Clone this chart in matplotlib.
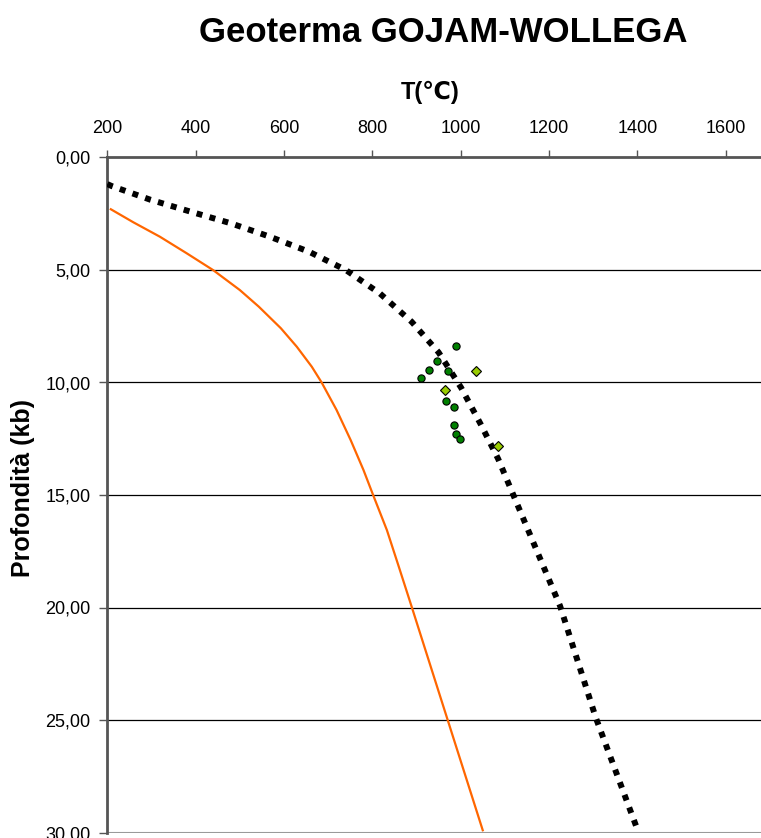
import matplotlib
matplotlib.use("Agg")
import matplotlib.pyplot as plt

plt.rcParams['font.family'] = ['Liberation Sans', 'DejaVu Sans']

# Geotherm (black dotted): temperature (°C) vs depth (kb)
geo_T = [200, 210, 298, 389, 479, 568, 657, 740, 817, 889, 950, 1001, 1045, 1085, 1225, 1306, 1397]
geo_z = [1.18, 1.27, 1.88, 2.41, 2.92, 3.52, 4.19, 5.0, 6.04, 7.30, 8.66, 10.23, 11.84, 13.4, 19.93, 24.9, 29.7]

# Reference curve (orange)
ref_T = [208, 259, 319, 380, 440, 500, 543, 593, 629, 663, 685, 719, 751, 780,
         801, 833, 860, 889, 969, 1050]
ref_z = [2.30, 2.88, 3.52, 4.26, 5.01, 5.89, 6.63, 7.59, 8.41, 9.30, 9.99, 11.22, 12.56, 13.89,
         14.96, 16.56, 18.19, 19.96, 24.9, 29.9]

# P-T estimates: circles
circ_T = [990, 946, 928, 972, 911, 967, 984, 984, 990, 998]
circ_z = [8.39, 9.04, 9.43, 9.50, 9.79, 10.82, 11.08, 11.88, 12.28, 12.50]

# P-T estimates: diamonds
diam_T = [1035, 965, 1085]
diam_z = [9.48, 10.33, 12.82]

x_ticks = [200, 400, 600, 800, 1000, 1200, 1400, 1600]
y_ticks = [0, 5, 10, 15, 20, 25, 30]
y_labels = ["0,00", "5,00", "10,00", "15,00", "20,00", "25,00", "30,00"]

W, H = 761, 838
fig = plt.figure(figsize=(W / 100, H / 100), dpi=100)
ax = fig.add_axes([107.3 / W, 1 - 832.5 / H, (W - 107.3) / W, (832.5 - 157.5) / H])

ax.set_xlim(200, 200 + (W - 107.3) / 0.4417)
ax.set_ylim(30, 0)

for yv in y_ticks[1:-1]:
    ax.axhline(yv, color='black', lw=0.9, zorder=1)
ax.axhline(30, color='#9a9a9a', lw=1.5, zorder=1)

ax.plot(ref_T, ref_z, color='#FF6600', lw=1.6, zorder=2)
ax.plot(geo_T, geo_z, color='black', lw=4.3, dashes=(1.0, 1.25),
        dash_capstyle='butt', zorder=3)
ax.plot(circ_T, circ_z, 'o', ms=5.2, mfc='#008000', mec='black', mew=0.8, zorder=4)
ax.plot(diam_T, diam_z, 'D', ms=4.8, mfc='#99CC00', mec='black', mew=0.8, zorder=4)

ax.xaxis.tick_top()
ax.set_xticks(x_ticks)
ax.set_xticklabels([str(v) for v in x_ticks])
ax.set_yticks(y_ticks)
ax.set_yticklabels(y_labels)
ax.tick_params(axis='x', direction='out', length=5, width=1, color='#555555',
               labelsize=13, pad=10)
ax.tick_params(axis='y', direction='out', length=6, width=1, color='#555555',
               labelsize=13, pad=6)

for side in ['right', 'bottom']:
    ax.spines[side].set_visible(False)
for side in ['top', 'left']:
    ax.spines[side].set_color('#555555')
    ax.spines[side].set_linewidth(2)

fig.text(430 / W, 1 - 92 / H, 'T(℃)', fontsize=17, fontweight='bold',
         ha='center', va='center')
fig.text(23 / W, 1 - 488 / H, 'Profondità (kb)', fontsize=18, fontweight='bold',
         ha='center', va='center', rotation=90)
fig.text(443 / W, 1 - 33 / H, 'Geoterma GOJAM-WOLLEGA', fontsize=25,
         fontweight='bold', ha='center', va='center')

fig.savefig('out.png', dpi=100)
